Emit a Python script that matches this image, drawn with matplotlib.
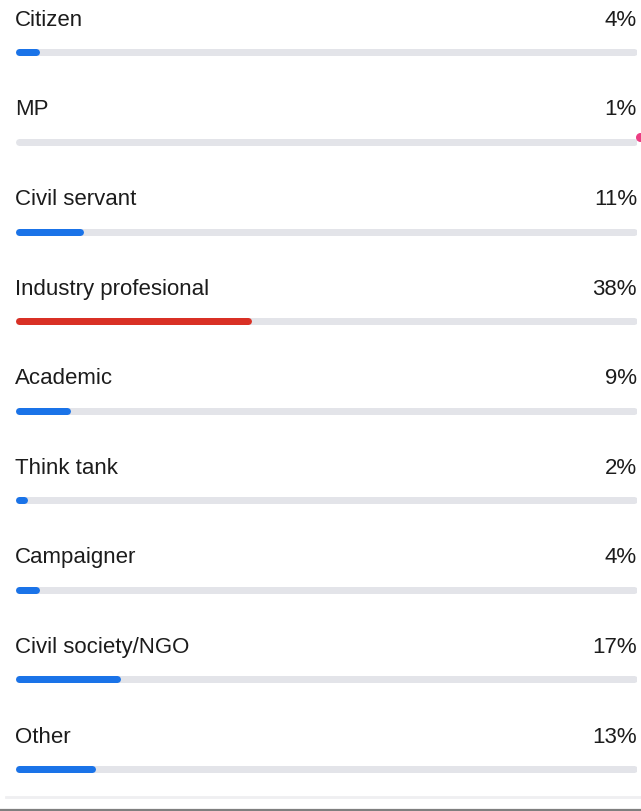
import matplotlib
matplotlib.use("Agg")
import matplotlib.pyplot as plt

categories = ["Citizen", "MP", "Civil servant", "Industry profesional", "Academic",
              "Think tank", "Campaigner", "Civil society/NGO", "Other"]
values = [4, 1, 11, 38, 9, 2, 4, 17, 13]
value_labels = ["4%", "1%", "11%", "38%", "9%", "2%", "4%", "17%", "13%"]

W, H = 641, 812
fig = plt.figure(figsize=(W / 100, H / 100), dpi=100)
fig.patch.set_facecolor("white")

# axes spanning the track horizontally (x in percent), full height
x0, x1 = 15, 637
ax = fig.add_axes([x0 / W, 0, (x1 - x0) / W, 1])
ax.set_xlim(0, 100)
row_px = 89.6
first_bar_px = 53.3
ax.set_ylim((H - first_bar_px) / row_px, -first_bar_px / row_px)
ax.axis("off")

lw_px = 7
lw = lw_px * 72 / 100
cap = (lw_px / 2) / ((x1 - x0) / 100)  # half line width in percent units

blue = "#1a73e8"
red = "#d93025"
track = "#e3e4e9"
vmax = max(values)

for i, (cat, v, lab) in enumerate(zip(categories, values, value_labels)):
    ax.plot([cap, 100 - cap], [i, i], color=track, lw=lw, solid_capstyle="round",
            zorder=1)
    col = red if v == vmax else blue
    ax.plot([cap, max(v - cap, cap)], [i, i], color=col, lw=lw,
            solid_capstyle="round", zorder=2)
    ty = i - 27.5 / row_px
    ax.text(0, ty, cat, ha="left", va="baseline", fontsize=16,
            family=["Liberation Sans", "DejaVu Sans"], color="#1c1c1c")
    ax.text(100, ty, lab, ha="right", va="baseline", fontsize=16,
            family=["Liberation Sans", "DejaVu Sans"], color="#1c1c1c")

# small pink dot at the right edge near the MP row
ax.scatter([100 + 3 / 6.22], [1 - 5 / row_px], s=30, color="#ec3d83", zorder=3,
           clip_on=False)

# bottom separator lines
fig.add_artist(plt.Line2D([6 / W, 1], [1 - 798 / H] * 2, color="#efeff1", lw=2,
                          transform=fig.transFigure))
fig.add_artist(plt.Line2D([0, 1], [1 - 810.5 / H] * 2, color="#7f7f7f", lw=1.6,
                          transform=fig.transFigure))

fig.savefig("out.png", dpi=100, facecolor="white")
